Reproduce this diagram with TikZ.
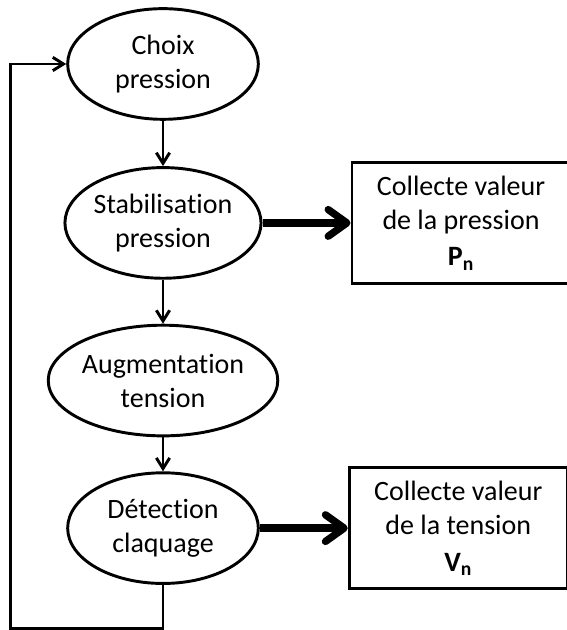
\documentclass[tikz,border=0pt]{standalone}
\usepackage{fontspec}
\setmainfont{Carlito}[Ligatures=NoCommon]
\usetikzlibrary{arrows.meta, positioning, shapes.geometric}
\tikzstyle{etape} = [draw, ellipse, inner sep=0pt, minimum width=143pt, minimum height=83pt, align=center]
\tikzstyle{collecte} = [draw, rectangle, minimum width=163.5pt, minimum height=91pt, align=center]
\tikzstyle{gros} = [line width=5.5pt, -{Straight Barb[length=14pt, width=20pt, round]}]

\begin{document}
\begin{tikzpicture}[x=0.75pt, y=0.75pt, >={Straight Barb[length=8pt, width=10pt]}, line width=2.2pt, font=\fontsize{21pt}{25.5pt}\selectfont]
        \useasboundingbox (0,0) rectangle (566,630);
        \node[etape] (choix) at (163,566) {Choix\\pression};
        \node[etape, below=34pt of choix] (stab) {Stabilisation\\pression};
        \node[etape, minimum width=155pt, below=33pt of stab] (augm) {Augmentation\\tension};
        \node[etape, below=25.5pt of augm] (detect) {D\'etection\\claquage};
        \node[collecte, right=66pt of stab] (valP) {Collecte valeur\\de la pression\\[2pt]\textbf{P}\textsubscript{\textbf{n}}};
        \node[collecte, right=66pt of detect] (valV) {Collecte valeur\\de la tension\\[2pt]\textbf{V}\textsubscript{\textbf{n}}};
        \coordinate[left=42pt of choix.west] (retour);

        \draw[->] (choix) -- (stab);
        \draw[->] (stab) -- (augm);
        \draw[->] (augm) -- (detect);

        \draw[gros] (stab) -- (valP);
        \draw[gros] (detect) -- (valV);

        \draw[->] (detect.south) -- ++(0,-44) -| (retour) -- (choix.west);

    \end{tikzpicture}
\end{document}
